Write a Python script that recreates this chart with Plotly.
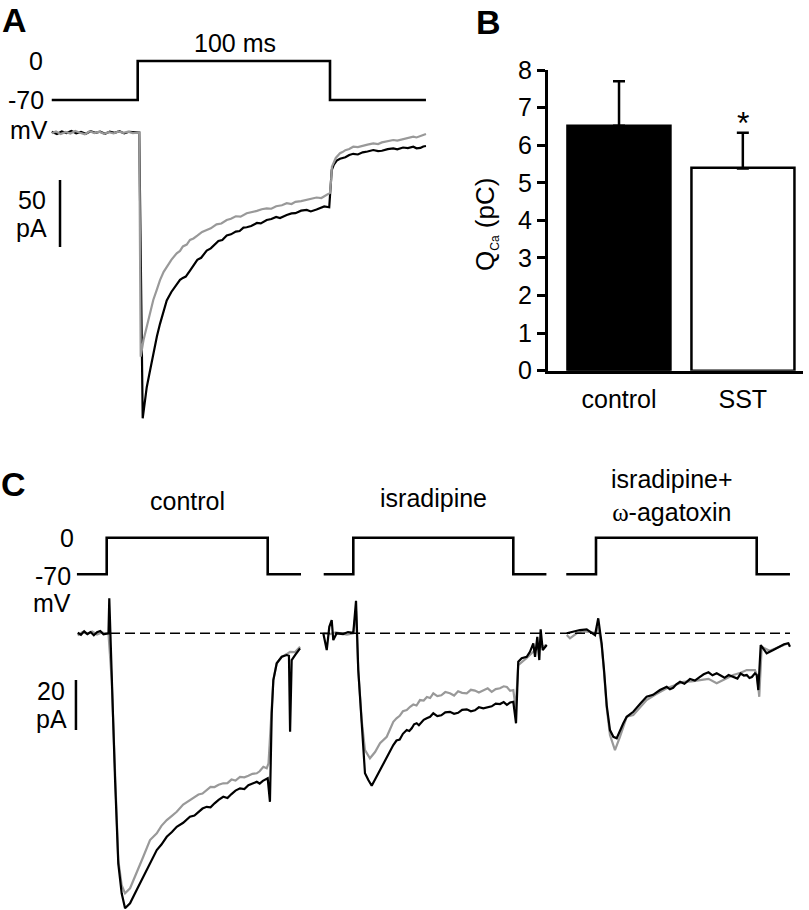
import plotly.graph_objects as go

# ---------------- data ----------------
# Panel A: voltage protocol (ms, mV) and Ca currents (ms, pA)
A_STEP_T = [-44.7, 0, 0, 100, 100, 149.9]
STEP_MV = [-70, -70, 0, 0, -70, -70]

A_CTRL_T = [-44.7, -42, -39.5, -37, -34.5, -32, -29.5, -27, -24.5, -22, -19.5, -17, -14.5, -12, -9.5, -7,
            -4.5, -2, 0.8, 2.6, 4.7, 6.5, 8.1, 10, 11.6, 13.5, 15.1, 17.5, 20.3, 22, 23.5, 25, 27.2, 29, 31,
            33, 35.9, 38, 40, 42, 44, 46.3, 48.5, 51, 53, 55, 56.7, 59, 62, 64, 67.1, 69.5, 72, 74, 77.5,
            80, 82, 85, 87.9, 90, 93, 95, 97, 99.6, 100.4, 100.9, 102, 103.5, 105.2, 106.5, 108, 110,
            112.1, 114.5, 117, 119.5, 122.5, 125, 127, 130, 132.9, 135, 138, 140.5, 143.3, 145, 147, 148.5,
            149.9]
A_CTRL_PA = [0.5, -1.1, 0.8, -0.4, 1.2, -0.6, 0.4, -1.0, 0.9, -0.3, 0.6, -0.9, 0.7, -0.2, 1.0, -0.7, 0.5,
             0.2, 0, -213.3, -190.1, -177, -165.1, -152, -142.8, -133, -125.4, -119, -112.9, -110, -108.5,
             -107.5, -103, -99, -95, -93.5, -88.1, -86.5, -83.5, -81, -80.2, -76.9, -76, -74, -73.5, -71,
             -70.7, -69.8, -67.5, -67.8, -65.3, -64.6, -63, -63.8, -61.6, -60.4, -60.2, -58.3, -57.8, -58.9,
             -57.5, -56.1, -55.2, -55.8, -40, -28, -24, -21, -19.6, -18.9, -18.5, -16.8, -15.9, -16.4,
             -14.8, -14.2, -13.1, -13.9, -13.6, -12.4, -11.9, -12.6, -11.2, -11.6, -10.6, -11.8, -11.5,
             -10.4, -10.1]

A_SST_T = [-44.7, -42.5, -40, -37.5, -35, -32.5, -30, -27.5, -25, -22.5, -20, -17.5, -15, -12.5, -10, -7.5,
           -5, -2.5, 0.8, 1.56, 3, 4.7, 6.5, 8.1, 10, 11.6, 13.5, 15.1, 17.5, 20.3, 22, 23.5, 25.5, 27.2,
           29, 31, 33.5, 35.9, 38, 41, 43.5, 46.3, 48.5, 51, 53.5, 56.7, 59, 62, 64.5, 67.1, 69.5, 72, 75,
           77.5, 80, 82, 85, 87.9, 90.5, 93, 95.5, 98.3, 100, 100.6, 101, 103, 105.2, 106.5, 108, 110,
           112.1, 114.5, 117, 119.5, 122.5, 125, 127, 130, 132.9, 135, 138, 140.5, 143.3, 145, 147, 148.5,
           149.9]
A_SST_PA = [-0.5, 0.7, -1.2, 0.4, -0.8, 1.1, -0.2, -1.3, 0.9, -0.4, 0.6, -1.0, 0.3, -0.7, 0.8, -0.3, 0.6,
            -0.5, 0, -167.3, -155, -144.9, -134, -125, -117, -110.1, -104, -100.1, -95, -90.1, -88.4, -85,
            -83.6, -80.2, -79.1, -77, -74.2, -72.8, -71.5, -68.5, -67.9, -65.3, -64.4, -62.5, -62.8, -60.3,
            -59.6, -58.5, -57.3, -56.6, -56.9, -55, -54.3, -52.8, -53.4, -51.8, -51.2, -50.4, -49.2, -48.5,
            -48.9, -46.6, -45.1, -35, -25.5, -19, -15.5, -14.6, -13.2, -12.3, -10.6, -10.9, -9.8, -9.1,
            -8.1, -8.6, -7.4, -6.3, -5.6, -6.0, -4.9, -4.1, -3.1, -3.7, -2.8, -1.6, -1.1]

# Panel B: charge
B_GROUPS = ["control", "SST"]
B_QCA = [6.52, 5.38]
B_SEM = [1.18, 0.95]

# Panel C: voltage protocol and currents (ms, pA)
C_STEP_T = [-18.5, 0, 0, 100, 100, 120.7]
C_TITLES = ["control", "isradipine",
            "isradipine+<br><span style='font-family:Liberation Serif, Times New Roman, serif'>ω</span>-agatoxin"]

C1_CTRL_T = [-18, -16, -14, -12, -10, -8, -6, -4, -2, 0, 1.1, 1.6, 3.1, 5.2, 7.2, 9.3, 11.4, 14.5, 18.6,
             22.7, 26.9, 31.1, 34, 37.3, 40.5, 43.5, 47.5, 51.7, 54.5, 57, 59.5, 62.1, 64.5, 67, 69.5, 72.4,
             75, 77.5, 80, 82.8, 85.5, 88, 90.5, 93.2, 95, 97, 100, 101.4, 102.5, 103.5, 105.6, 108.7,
             111.8, 113.2, 113.9, 114.9, 117, 120.1]
C1_CTRL_PA = [0.2, -0.6, 0.8, -0.3, 0.5, -0.8, 0.4, 0.9, -0.4, 0, 0, 14, -18.7, -58.7, -92.1, -104, -110,
              -108, -102.7, -97.4, -92, -86.7, -84.5, -81.4, -79.5, -77.4, -75.8, -73.4, -72.9, -71.5,
              -70.1, -69.4, -69.6, -68, -66.6, -65.4, -65.9, -64.3, -62.9, -62, -62.3, -60.8, -60.2, -59.4,
              -60.1, -59, -58, -67.4, -32, -18.7, -12, -9.4, -8.7, -9, -39.4, -10.7, -8.7, -6]
C1_SST_T = [-18, -15, -12, -9, -6, -3, 0, 1.1, 3.1, 5.2, 7.2, 9.3, 11.4, 14.5, 18.6, 22.7, 26.9, 31.1,
            34, 37.3, 40.5, 43.5, 47.5, 51.7, 54.5, 57, 59.5, 62.1, 64.5, 67, 69.5, 72.4, 75, 77.5, 80,
            82.8, 85.5, 88, 90.5, 93.2, 95, 97.3, 99.4, 100.5, 102.5, 103.5, 105.6, 108.7, 111.8, 113.9,
            117, 120.1]
C1_SST_PA = [-0.8, 0.5, -0.2, 0.7, -0.5, 0.3, 0, 0, -18.7, -58.7, -90.7, -100.7, -104, -102, -96, -89.4,
             -82.7, -80, -77, -74.7, -73, -71.4, -68.5, -66.7, -65.8, -64.5, -64.1, -62.7, -61.4, -61.5,
             -60.6, -60, -59.9, -58.5, -58.9, -57.4, -57.6, -57, -56.2, -56, -55.2, -53.4, -54, -52, -32,
             -18.7, -12, -9.5, -8.3, -7.4, -7.5, -5.4]

C2_CTRL_T = [-18.75, -16.6, -15, -13.5, -12.5, -10.4, -6.4, -3.3, 0, 1.7, 3.1, 5.25, 7.3, 9.4, 11.5, 14,
             16.7, 20.9, 25, 27, 29, 31, 33.4, 35, 36.5, 38, 39.6, 41, 42.5, 44, 45.9, 48, 50, 52.5, 55,
             57.5, 60.4, 63, 65.5, 68, 70.9, 73.5, 76, 78.5, 81.25, 84, 86.5, 89, 91.7, 94, 96, 98, 100,
             101.7, 102.5, 103.1, 105.25, 108.4, 110.4, 112.5, 113.6, 115, 116.25, 117.1, 118.4, 120.9]
C2_CTRL_PA = [0, -6.7, 2.6, 5.3, -2.7, 0, -0.3, 0.5, 0.2, 13, -14.7, -34.7, -56, -58.7, -61, -58, -54.7,
              -49.4, -44.7, -42.9, -42.5, -40.2, -38.7, -39.1, -38, -36.4, -36, -36.8, -35.5, -34.6, -34,
              -33.4, -32, -33.1, -32.8, -31.6, -31.4, -32.2, -31.8, -30.6, -30.4, -31.2, -30.8, -29.6, -30,
              -29.7, -29.2, -28.1, -28.3, -27.5, -28.6, -27.7, -27.4, -36, -21.4, -11.4, -10, -9.4, -7.4,
              -4, -9.4, -1.4, -10.7, 1.6, -6.7, -4.7]
C2_SST_T = [-18.75, -14.6, -11, -8.3, -4, 0, 1.7, 3.1, 5.25, 7.3, 10.4, 13.6, 16.7, 20.9, 25, 27, 29, 31,
            33.4, 35.5, 37.5, 39.5, 41.7, 44, 46, 48, 50, 52.5, 55, 57.5, 60.4, 63, 65.5, 68, 70.9, 73.5,
            76, 78.5, 81.25, 84, 86.5, 89, 91.7, 94, 96, 98, 100, 101.5, 103.1, 108.4, 113.6, 117, 120.9]
C2_SST_PA = [0, -0.3, 0.4, 0, -0.5, 0, 9, -14.7, -34.7, -46.7, -50, -47.5, -44, -41.4, -35.4, -34, -33,
             -31.2, -30.7, -29.4, -28.5, -28.9, -26.7, -26.9, -25.5, -25.9, -24, -25.1, -24.8, -23.5, -24,
             -24.9, -23.2, -23.8, -24, -22.6, -22.9, -23.7, -22.7, -22, -23.4, -22.3, -22, -21.2, -21.5,
             -23, -22.7, -30, -12.7, -9.9, -6.7, -5.5, -4.7]

C3_CTRL_T = [-18.2, -14.1, -10, -5.8, -2.7, -0.6, 1.4, 3.5, 5, 6.7, 8.7, 10.8, 12.9, 14.9, 17, 19.1, 23.2,
             27.5, 31.5, 35.5, 39.8, 44, 46, 48, 50, 52.3, 55, 58.5, 61.5, 64.7, 67, 70, 72.5, 75.1, 77.5,
             80, 82.5, 85.4, 88, 90, 92, 93.8, 95.5, 97, 98.9, 100, 101, 102.5, 106.2, 110.3, 114.5, 117,
             119.7, 120.7]
C3_CTRL_PA = [0, 0.6, 1.3, 1.6, 0, -0.7, 6, -4, -14.7, -29, -38.7, -41.4, -42, -38.7, -36, -33.4, -31.4,
              -28.2, -25.4, -24.6, -22.7, -21.4, -22.4, -21.8, -20.4, -19.4, -20.2, -18.3, -18.9, -17.4,
              -16.4, -15.6, -16.8, -16, -16.9, -17.8, -16.7, -17.4, -18.1, -16.1, -16.9, -16.7, -17.9,
              -17.5, -16, -16.7, -22.7, -4.7, -8, -6.7, -5.4, -4.4, -4, -5.4]
C3_SST_T = [-18.2, -16.2, -12, -8, -3.7, 0, 1.4, 3.5, 5, 6.7, 8.7, 11.8, 14.9, 19.1, 23.2, 27.5, 31.5, 37,
            44, 49, 54.3, 59.5, 64.7, 70, 75.1, 80, 85.4, 90, 93.8, 98.9, 100.3, 101.6, 103.1, 108, 113,
            119.7]
C3_SST_PA = [-0.7, -2, 0, 0.8, 0.6, 0, 2.6, -4.7, -15.5, -30, -40.7, -46.7, -41.4, -33.4, -32.7, -29.5,
             -26.7, -24.5, -22, -20.8, -19.4, -19.2, -18.7, -18.2, -20, -18.5, -16.7, -15.8, -14.7, -14.7,
             -17, -25.4, -5.4, -7, -5.8, -4]

SCALE_A_PA = 50
SCALE_C_PA = 20

# ---------------- layout helpers ----------------
W, H = 809, 910
FONT = "Liberation Sans, Arial, sans-serif"
GRAY = "#999999"
FS = 25


def xdom(px0, s, lo, hi):
    return [(px0 + s * lo) / W, (px0 + s * hi) / W]


def ydom(py0, s, lo, hi):
    return [max(0, 1 - (py0 - s * lo) / H), min(1, 1 - (py0 - s * hi) / H)]


def hidden(dom, rng, anchor):
    return dict(domain=dom, range=rng, anchor=anchor, visible=False, fixedrange=True,
                showgrid=False, zeroline=False, automargin=False)


fig = go.Figure()
layout = {}

# Panel A axes
A_XR = [-46, 152]
layout["xaxis"] = hidden(xdom(137.7, 1.923, *A_XR), A_XR, "y")
A_VR = [-80, 8]
layout["yaxis"] = hidden(ydom(61, 39 / 70, *A_VR), A_VR, "x")
A_IR = [-222, 10]
layout["yaxis2"] = hidden(ydom(132.5, 1.34, *A_IR), A_IR, "x")

# Panel B axes
B_XR = [-0.576, 1.486]
layout["xaxis2"] = dict(domain=[547.7 / W, 803 / W], range=B_XR, anchor="y3", showline=True,
                        linewidth=2.5, linecolor="black", ticks="", showgrid=False, zeroline=False,
                        tickfont=dict(size=FS, color="black", family=FONT), ticklabelstandoff=5,
                        fixedrange=True, automargin=False)
layout["yaxis3"] = dict(domain=[1 - 370.7 / H, 1 - 70 / H], range=[0, 8], anchor="x2", showline=True,
                        linewidth=2.5, linecolor="black", ticks="outside", ticklen=8, tickwidth=2.5,
                        tickcolor="black", dtick=1, showgrid=False, zeroline=False,
                        tickfont=dict(size=FS, color="black", family=FONT), fixedrange=True,
                        automargin=False)

# Panel C axes
C_XR = [-22, 122]
C_VR = [-80, 8]
C_IR = [-(910 - 633.3) / 2.5, 16]
C_ORIG = [(106.7, 1.61), (353.3, 1.60), (596.0, 1.607)]
for k, (px0, s) in enumerate(C_ORIG):
    xn = 3 + k
    yv = 4 + 2 * k
    yi = 5 + 2 * k
    layout[f"xaxis{xn}"] = hidden(xdom(px0, s, *C_XR), C_XR, f"y{yv}")
    layout[f"yaxis{yv}"] = hidden(ydom(537.7, 36.6 / 70, *C_VR), C_VR, f"x{xn}")
    layout[f"yaxis{yi}"] = hidden(ydom(633.3, 2.5, *C_IR), C_IR, f"x{xn}")


def line(x, y, xa, ya, color="black", width=2.0):
    fig.add_trace(go.Scatter(x=x, y=y, xaxis=xa, yaxis=ya, mode="lines",
                             line=dict(color=color, width=width), hoverinfo="skip", showlegend=False))


# ---------------- traces ----------------
# A
line(A_STEP_T, STEP_MV, "x", "y", width=2.6)
line(A_CTRL_T, A_CTRL_PA, "x", "y2", "black", 2.2)
line(A_SST_T, A_SST_PA, "x", "y2", GRAY, 2.2)
sb_top_a = -35.4
line([-40.4, -40.4], [sb_top_a, sb_top_a - SCALE_A_PA], "x", "y2", "black", 2.5)

# B
fig.add_trace(go.Bar(x=B_GROUPS, y=B_QCA, xaxis="x2", yaxis="y3", width=0.83,
                     marker=dict(color=["black", "white"], line=dict(color="black", width=2.5)),
                     error_y=dict(type="data", symmetric=False, array=B_SEM, arrayminus=[0, 0],
                                  color="black", thickness=2.5, width=6),
                     showlegend=False, hoverinfo="skip"))

# C
C_DATA = [(C1_CTRL_T, C1_CTRL_PA, C1_SST_T, C1_SST_PA),
          (C2_CTRL_T, C2_CTRL_PA, C2_SST_T, C2_SST_PA),
          (C3_CTRL_T, C3_CTRL_PA, C3_SST_T, C3_SST_PA)]
for k, (ct, ci, st, si) in enumerate(C_DATA):
    xa = f"x{3 + k}"
    line(C_STEP_T, STEP_MV, xa, f"y{4 + 2 * k}", width=2.6)
    line(st, si, xa, f"y{5 + 2 * k}", GRAY, 2.2)
    line(ct, ci, xa, f"y{5 + 2 * k}", "black", 2.2)
sb_top_c = -18.7
line([-19.1, -19.1], [sb_top_c, sb_top_c - SCALE_C_PA], "x3", "y5", "black", 2.5)

# dashed zero-current line across panel C
shapes = [dict(type="line", xref="paper", yref="y5", x0=110 / W, x1=790 / W, y0=0, y1=0,
               line=dict(color="black", width=1.6, dash="10px,5px"))]

# ---------------- text ----------------
anns = []


def ann(text, px, py, size=FS, xanchor="center", bold=False, angle=0):
    anns.append(dict(text=f"<b>{text}</b>" if bold else text, xref="paper", yref="paper",
                     x=px / W, y=1 - py / H, xanchor=xanchor, yanchor="middle", showarrow=False,
                     textangle=angle, font=dict(size=size, color="black", family=FONT)))


ann("A", 14, 20, 34, bold=True)
ann("B", 488, 22, 34, bold=True)
ann("C", 13, 484, 34, bold=True)
ann("100 ms", 235, 43)
ann("0", 45, 61, xanchor="right")
ann("-70", 46, 100, xanchor="right")
ann("mV", 50, 130, xanchor="right")
ann(f"{SCALE_A_PA}", 48, 200, xanchor="right")
ann("pA", 49, 228, xanchor="right")
ann("Q<sub><span style='font-size:12px'>Ca</span></sub> (pC)", 486, 225, 26, angle=-90)
ann("*", 743, 123, 32)
C_TITLE_POS = [(187, 501), (433.5, 498), (672, 496)]
for t, (px, py) in zip(C_TITLES, C_TITLE_POS):
    ann(t, px, py)
ann("0", 76, 538, xanchor="right")
ann("-70", 73, 576, xanchor="right")
ann("mV", 73, 603, xanchor="right")
ann(f"{SCALE_C_PA}", 67, 691, xanchor="right")
ann("pA", 69, 719, xanchor="right")

layout.update(dict(width=W, height=H, autosize=False, margin=dict(l=0, r=0, t=0, b=0, pad=0),
                   paper_bgcolor="white", plot_bgcolor="white", annotations=anns, shapes=shapes,
                   bargap=0, font=dict(family=FONT, color="black"), template="none"))
fig.update_layout(**layout)
fig.write_html("out.html", config={"responsive": False, "displayModeBar": False},
               post_script="document.body.style.margin='0';document.body.style.overflow='hidden';")
